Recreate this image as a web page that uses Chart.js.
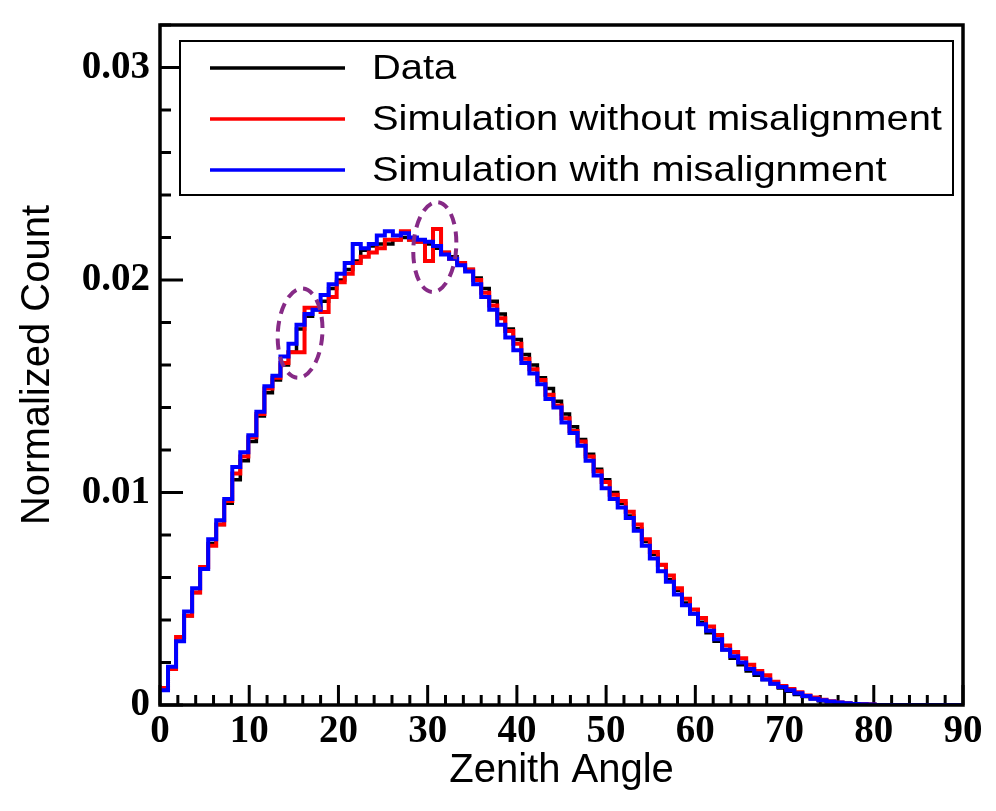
<!DOCTYPE html>
<html lang="en">
<head>
<meta charset="UTF-8">
<title>Zenith Angle distribution</title>
<script src="https://cdn.jsdelivr.net/npm/chart.js"></script>
<style>
  html, body { margin: 0; padding: 0; background: #fff; }
  #wrap { width: 996px; height: 811px; position: relative; }
</style>
</head>
<body>
<div id="wrap"><canvas id="grafico"></canvas></div>
<script>
// 100 bins de 0.9 grados entre 0 y 90
const binWidth = 0.9;
const binLowEdges = Array.from({length: 100}, (_, i) => Math.round(i * binWidth * 10) / 10);
const xMax = 90;

const dataValues = [
  0.0008, 0.0017, 0.0030, 0.0042, 0.0053, 0.0064, 0.0076, 0.0085, 0.0095, 0.0106,
  0.0115, 0.0124, 0.0136, 0.0147, 0.0153, 0.0160, 0.0166, 0.0177, 0.0183, 0.0186,
  0.0190, 0.0196, 0.0200, 0.0205, 0.0209, 0.0214, 0.0216, 0.0217, 0.0217, 0.0219,
  0.0220, 0.0219, 0.0218, 0.0217, 0.0215, 0.0213, 0.0211, 0.0208, 0.0205, 0.0201,
  0.0196, 0.0190, 0.0184, 0.0177, 0.0172, 0.0165, 0.0160, 0.0154, 0.0149, 0.0143,
  0.0137, 0.0131, 0.0125, 0.0118, 0.0111, 0.0106, 0.0100, 0.0095, 0.0089, 0.0083,
  0.0077, 0.0071, 0.0066, 0.0059, 0.0054, 0.0048, 0.0043, 0.0039, 0.0034, 0.0030,
  0.0026, 0.0022, 0.0019, 0.0016, 0.0014, 0.0012, 0.0010, 0.0008, 0.00065, 0.0005,
  0.0004, 0.0003, 0.0002, 0.00015, 0.0001, 0.00007, 0.00005, 0.00003, 0.00002, 0,
  0, 0, 0, 0, 0, 0, 0, 0, 0, 0
];
const simNoMisalign = [
  0.0008, 0.0017, 0.0032, 0.0042, 0.0053, 0.0065, 0.0075, 0.0085, 0.0096, 0.0109,
  0.0117, 0.0126, 0.0137, 0.0149, 0.0154, 0.0161, 0.0166, 0.0166, 0.0187, 0.0187,
  0.0185, 0.0192, 0.0199, 0.0203, 0.0208, 0.0211, 0.0213, 0.0215, 0.0219, 0.0219,
  0.0223, 0.0219, 0.0218, 0.0209, 0.0224, 0.0213, 0.0210, 0.0208, 0.0205, 0.0200,
  0.0194, 0.0188, 0.0182, 0.0176, 0.0170, 0.0163, 0.0158, 0.0153, 0.0146, 0.0141,
  0.0135, 0.0129, 0.0124, 0.0117, 0.0110, 0.0105, 0.0099, 0.0096, 0.0091, 0.0085,
  0.0078, 0.0072, 0.0066, 0.0061, 0.0055, 0.0050, 0.0045, 0.0041, 0.0037, 0.0033,
  0.0028, 0.0025, 0.0022, 0.0019, 0.0016, 0.0014, 0.0011, 0.0009, 0.00075, 0.0006,
  0.00045, 0.00035, 0.00025, 0.00018, 0.00012, 0.00008, 0.00005, 0.00003, 0.00002, 0,
  0, 0, 0, 0, 0, 0, 0, 0, 0, 0
];
const simMisalign = [
  0.0007, 0.0018, 0.0030, 0.0044, 0.0055, 0.0064, 0.0078, 0.0087, 0.0097, 0.0112,
  0.0119, 0.0127, 0.0138, 0.0150, 0.0155, 0.0164, 0.0170, 0.0179, 0.0184, 0.0186,
  0.0193, 0.0198, 0.0203, 0.0208, 0.0217, 0.0215, 0.0217, 0.0221, 0.0223, 0.0221,
  0.0222, 0.0220, 0.0219, 0.0218, 0.0216, 0.0212, 0.0210, 0.0207, 0.0204, 0.0198,
  0.0192, 0.0186, 0.0179, 0.0173, 0.0167, 0.0161, 0.0156, 0.0151, 0.0144, 0.0140,
  0.0133, 0.0128, 0.0122, 0.0115, 0.0108, 0.0102, 0.0097, 0.0093, 0.0088, 0.0082,
  0.0075, 0.0069, 0.0063, 0.0058, 0.0052, 0.0047, 0.0043, 0.0038, 0.0035, 0.0031,
  0.0026, 0.0023, 0.0020, 0.0017, 0.0015, 0.0012, 0.0010, 0.00085, 0.0007, 0.00055,
  0.00042, 0.0003, 0.00022, 0.00016, 0.00012, 0.00008, 0.00005, 0.00003, 0.00002, 0,
  0, 0, 0, 0, 0, 0, 0, 0, 0, 0
];

const seriesNames = ['Data', 'Simulation without misalignment', 'Simulation with misalignment'];
const seriesColors = ['#000000', '#ff0000', '#0000ff'];

const xTicks = [0, 10, 20, 30, 40, 50, 60, 70, 80, 90];
const xTickLabels = ['0', '10', '20', '30', '40', '50', '60', '70', '80', '90'];
const yTicks = [0, 0.01, 0.02, 0.03];
const yTickLabels = ['0', '0.01', '0.02', '0.03'];

// elipses punteadas (centro y semiejes en unidades de los ejes)
const marcas = [
  { x: 15.7, y: 0.0175, rx: 2.5, ry: 0.0021, rot: 0.06 },
  { x: 30.8, y: 0.02155, rx: 2.4, ry: 0.00212, rot: 0.06 }
];

function histPoints(vals) {
  const pts = vals.map((v, i) => ({ x: binLowEdges[i], y: v }));
  pts.push({ x: xMax, y: vals[vals.length - 1] });
  return pts;
}

const tickFont = { family: '"Liberation Serif", "Times New Roman", serif', size: 39, weight: 'bold' };
const titleFont = { family: '"Liberation Sans", Arial, sans-serif', size: 40 };

// marco, ticks hacia adentro, elipses y leyenda al estilo ROOT
const rootStyle = {
  id: 'rootStyle',
  beforeDatasetsDraw(chart) {
    const ctx = chart.ctx, ca = chart.chartArea;
    const xs = chart.scales.x, ys = chart.scales.y;
    ctx.save();
    ctx.strokeStyle = '#000';
    ctx.lineWidth = 3;
    for (let i = 0; i <= 45; i++) {
      const px = xs.getPixelForValue(i * 2);
      const len = i % 5 === 0 ? 20 : 10;
      ctx.beginPath(); ctx.moveTo(px, ca.bottom); ctx.lineTo(px, ca.bottom - len); ctx.stroke();
    }
    for (let i = 0; i <= 16; i++) {
      const py = ys.getPixelForValue(i * 0.002);
      const len = i % 5 === 0 ? 23 : 11;
      ctx.beginPath(); ctx.moveTo(ca.left, py); ctx.lineTo(ca.left + len, py); ctx.stroke();
    }
    ctx.restore();
  },
  afterDatasetsDraw(chart) {
    const ctx = chart.ctx, ca = chart.chartArea;
    const xs = chart.scales.x, ys = chart.scales.y;
    ctx.save();
    // marco
    ctx.strokeStyle = '#000';
    ctx.lineWidth = 3.5;
    ctx.strokeRect(ca.left, ca.top, ca.right - ca.left, ca.bottom - ca.top);

    // elipses
    ctx.strokeStyle = '#862a86';
    ctx.lineWidth = 4;
    ctx.setLineDash([11, 7]);
    marcas.forEach(m => {
      const cx = xs.getPixelForValue(m.x), cy = ys.getPixelForValue(m.y);
      const rx = xs.getPixelForValue(m.x + m.rx) - cx;
      const ry = cy - ys.getPixelForValue(m.y + m.ry);
      ctx.beginPath();
      ctx.ellipse(cx, cy, rx, ry, m.rot, 0, Math.PI * 2);
      ctx.stroke();
    });
    ctx.setLineDash([]);

    // leyenda
    const lx = ca.left + 20, ly = ca.top + 16, lw = ca.right - 10 - lx, lh = 154;
    ctx.fillStyle = '#fff';
    ctx.fillRect(lx, ly, lw, lh);
    ctx.strokeStyle = '#000';
    ctx.lineWidth = 2;
    ctx.strokeRect(lx, ly, lw, lh);
    ctx.font = '35px "Liberation Sans", Arial, sans-serif';
    ctx.textBaseline = 'alphabetic';
    ctx.textAlign = 'left';
    chart.data.datasets.forEach((ds, i) => {
      const ry = ly + 27 + i * 51;
      ctx.strokeStyle = ds.borderColor;
      ctx.lineWidth = 3.5;
      ctx.beginPath(); ctx.moveTo(lx + 30, ry); ctx.lineTo(lx + 165, ry); ctx.stroke();
      ctx.save();
      ctx.translate(lx + 192, ry + 11);
      ctx.scale(1.14, 1);
      ctx.fillStyle = '#000';
      ctx.fillText(ds.label, 0, 0);
      ctx.restore();
    });
    ctx.restore();
  }
};

const series = [dataValues, simNoMisalign, simMisalign];
const ctx = document.getElementById('grafico').getContext('2d');
const myChart = new Chart(ctx, {
  type: 'line',
  data: {
    datasets: series.map((vals, i) => ({
      label: seriesNames[i],
      data: histPoints(vals),
      borderColor: seriesColors[i],
      borderWidth: i === 0 ? 3.5 : 4,
      stepped: 'before',
      pointRadius: 0,
      fill: false,
      tension: 0,
      borderJoinStyle: 'miter',
      order: 2 - i
    }))
  },
  options: {
    responsive: true,
    maintainAspectRatio: false,
    animation: false,
    layout: { padding: { top: 25, right: 33, left: 0, bottom: 0 } },
    plugins: { legend: { display: false }, tooltip: { enabled: false } },
    scales: {
      x: {
        type: 'linear', min: 0, max: xMax,
        afterBuildTicks: s => { s.ticks = xTicks.map(v => ({ value: v })); },
        afterFit: s => { s.height = 106; s.paddingLeft = 0; s.paddingRight = 0; },
        grid: { display: false, drawTicks: false },
        border: { display: false },
        ticks: {
          font: tickFont, color: '#000', padding: 4, maxRotation: 0, autoSkip: false,
          callback: (v, i) => xTickLabels[i]
        },
        title: { display: true, text: 'Zenith Angle', font: titleFont, color: '#000', padding: { top: 0, bottom: 16 } }
      },
      y: {
        type: 'linear', min: 0, max: 0.032,
        afterBuildTicks: s => { s.ticks = yTicks.map(v => ({ value: v })); },
        afterFit: s => { s.width = 160; s.paddingTop = 0; s.paddingBottom = 0; },
        grid: { display: false, drawTicks: false },
        border: { display: false },
        ticks: {
          font: tickFont, color: '#000', padding: 10, autoSkip: false,
          callback: (v, i) => yTickLabels[i]
        },
        title: { display: true, text: 'Normalized Count', font: titleFont, color: '#000', padding: { top: 14, bottom: 0 } }
      }
    }
  },
  plugins: [rootStyle]
});
</script>
</body>
</html>
